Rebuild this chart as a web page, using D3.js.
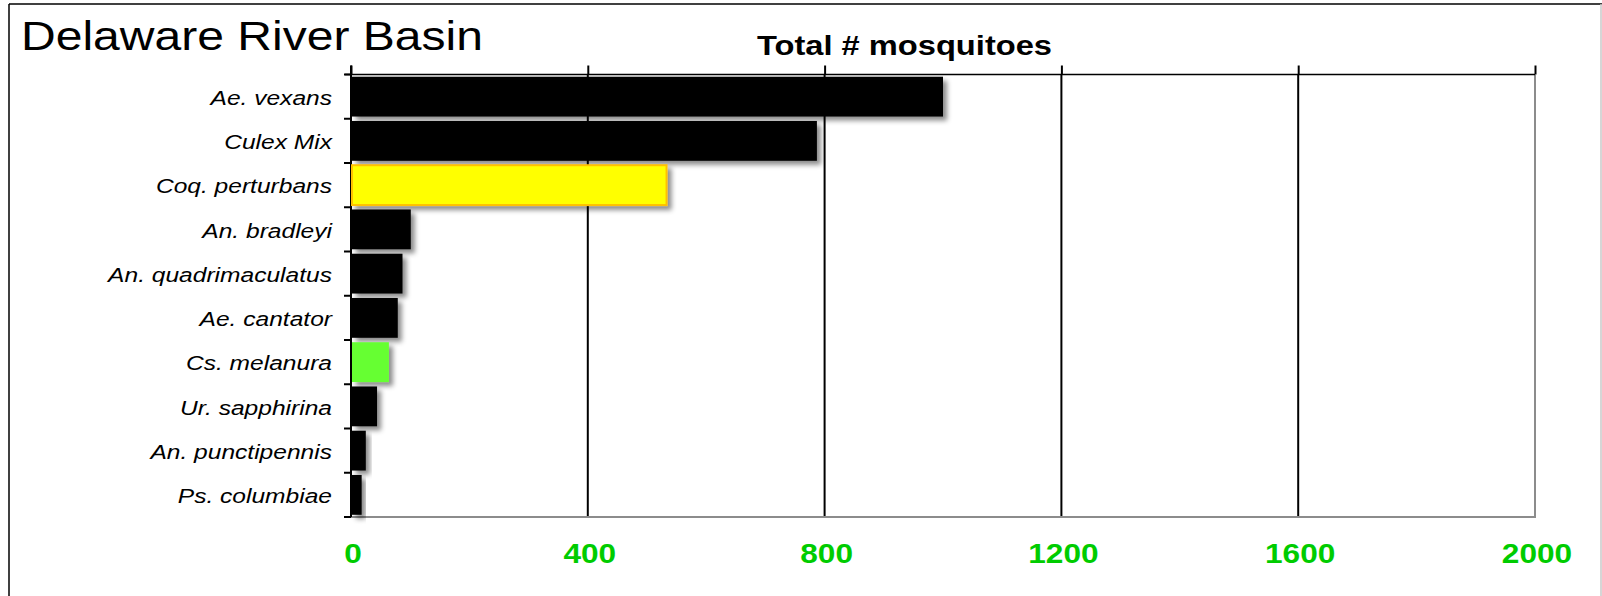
<!DOCTYPE html>
<html>
<head>
<meta charset="utf-8">
<script src="https://cdn.jsdelivr.net/npm/d3@7"></script>
<style>
body { margin: 0; background: #fff; }
svg { display: block; font-family: "Liberation Sans", Arial, sans-serif; }
</style>
</head>
<body>
<div id="chart"></div>
<script>
// data
var species = ['Ae. vexans', 'Culex Mix', 'Coq. perturbans', 'An. bradleyi', 'An. quadrimaculatus',
    'Ae. cantator', 'Cs. melanura', 'Ur. sapphirina', 'An. punctipennis', 'Ps. columbiae'];
var totals = [1000, 787, 533, 101, 87, 79, 64, 44, 25, 18];
var xTicks = [0, 400, 800, 1200, 1600, 2000];

// a few bars are coloured differently
var barFill = { 'Coq. perturbans': '#ffff00', 'Cs. melanura': '#66ff33' };
var barStroke = { 'Coq. perturbans': '#ffc000' };

var width = 1602, height = 596;
var plotTop = 74.5, plotBottom = 517;

var svg = d3.select('#chart').append('svg')
    .attr('width', width).attr('height', height);

// shadow under the bars
var filter = svg.append('defs').append('filter').attr('id', 'shadow')
    .attr('x', '-20%').attr('y', '-30%').attr('width', '160%').attr('height', '180%');
filter.append('feDropShadow')
    .attr('dx', 4).attr('dy', 4).attr('stdDeviation', 2.5)
    .attr('flood-color', '#000').attr('flood-opacity', 0.45);

// outer frame
svg.append('line').attr('x1', 9).attr('y1', 4).attr('x2', 9).attr('y2', height)
    .attr('stroke', '#000').attr('stroke-width', 1.5);
svg.append('line').attr('x1', 9).attr('y1', 4).attr('x2', width).attr('y2', 4)
    .attr('stroke', '#000').attr('stroke-width', 1.5);
svg.append('line').attr('x1', 1601).attr('y1', 4).attr('x2', 1601).attr('y2', height)
    .attr('stroke', '#c8c8c8').attr('stroke-width', 1.5);

// scales
var x = d3.scaleLinear().domain([0, 2000]).range([351, 1535]);
var y = d3.scaleBand().domain(species).range([plotTop, plotBottom])
    .paddingInner(0.1).paddingOuter(0.05);

// gridlines
svg.append('g').selectAll('line')
    .data(xTicks.slice(1, -1)).enter().append('line')
    .attr('x1', function(d) { return x(d); }).attr('x2', function(d) { return x(d); })
    .attr('y1', plotTop).attr('y2', plotBottom)
    .attr('stroke', '#000').attr('stroke-width', 2);

// right and bottom edge of the plot (grey)
svg.append('line').attr('x1', x(2000)).attr('x2', x(2000)).attr('y1', plotTop).attr('y2', plotBottom + 1)
    .attr('stroke', '#8c8c8c').attr('stroke-width', 2);
svg.append('line').attr('x1', x(0)).attr('x2', x(2000) + 1).attr('y1', plotBottom).attr('y2', plotBottom)
    .attr('stroke', '#8c8c8c').attr('stroke-width', 2);

// top axis with the ticks pointing up
var topAxis = svg.append('g')
    .attr('transform', 'translate(0,' + plotTop + ')')
    .call(d3.axisTop(x).tickValues(xTicks).tickSize(9).tickSizeOuter(0).tickFormat(''));
topAxis.select('.domain').attr('stroke', '#000').attr('stroke-width', 1.5)
    .attr('d', 'M' + (x(0) - 6) + ',0H' + x(2000));
topAxis.selectAll('.tick line').attr('stroke', '#000').attr('stroke-width', 2);

// left axis line and ticks between the categories
svg.append('line').attr('x1', x(0)).attr('x2', x(0)).attr('y1', plotTop - 9).attr('y2', plotBottom)
    .attr('stroke', '#000').attr('stroke-width', 2);
var bounds = d3.range(species.length + 1).map(function(i) { return plotTop + i * y.step(); });
svg.append('g').selectAll('line')
    .data(bounds).enter().append('line')
    .attr('x1', x(0) - 7).attr('x2', x(0))
    .attr('y1', function(d) { return d; }).attr('y2', function(d) { return d; })
    .attr('stroke', '#000').attr('stroke-width', 2);

// bars
svg.append('g').selectAll('rect')
    .data(species).enter().append('rect')
    .attr('x', x(0) + 1)
    .attr('y', function(d) { return y(d); })
    .attr('width', function(d, i) { return x(totals[i]) - x(0) - 1; })
    .attr('height', y.bandwidth())
    .attr('fill', function(d) { return barFill[d] || '#000'; })
    .attr('stroke', function(d) { return barStroke[d] || 'none'; })
    .attr('stroke-width', 2)
    .attr('filter', 'url(#shadow)');

// category labels (the picture is stretched a bit sideways)
svg.append('g').selectAll('text')
    .data(species).enter().append('text')
    .attr('transform', function(d) {
        return 'translate(332,' + (y(d) + y.bandwidth() / 2 + 1) + ') scale(1.17,1)';
    })
    .attr('text-anchor', 'end').attr('dy', '0.35em')
    .attr('font-size', 21).attr('font-style', 'italic').attr('fill', '#000')
    .text(function(d) { return d; });

// bottom tick labels
svg.append('g').selectAll('text')
    .data(xTicks).enter().append('text')
    .attr('transform', function(d) { return 'translate(' + (x(d) + 2) + ',563) scale(1.13,1)'; })
    .attr('text-anchor', 'middle')
    .attr('font-size', 28).attr('font-weight', 'bold').attr('fill', '#00cc00')
    .text(function(d) { return d; });

// titles
svg.append('text')
    .attr('x', 21).attr('y', 50)
    .attr('font-size', 41).attr('fill', '#000')
    .attr('textLength', 462).attr('lengthAdjust', 'spacingAndGlyphs')
    .text('Delaware River Basin');

svg.append('text')
    .attr('x', 757).attr('y', 55)
    .attr('font-size', 28).attr('font-weight', 'bold').attr('fill', '#000')
    .attr('textLength', 295).attr('lengthAdjust', 'spacingAndGlyphs')
    .text('Total # mosquitoes');
</script>
</body>
</html>
